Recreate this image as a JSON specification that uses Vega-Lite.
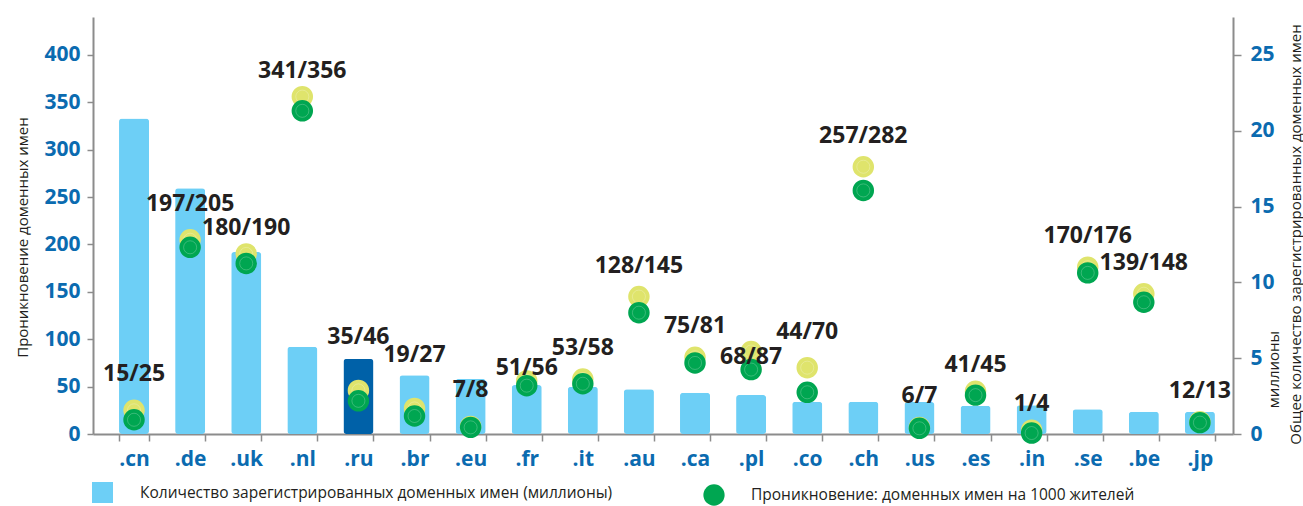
{
  "$schema": "https://vega.github.io/schema/vega-lite/v6.json",
  "width": 1140,
  "height": 417,
  "autosize": {"type": "none"},
  "padding": {"left": 93, "top": 17, "right": 70, "bottom": 72},
  "background": "white",
  "data": {
    "values": [
      {"tld": ".cn", "mln": 20.8, "pen1": 15, "pen2": 25, "label": "15/25"},
      {"tld": ".de", "mln": 16.2, "pen1": 197, "pen2": 205, "label": "197/205"},
      {"tld": ".uk", "mln": 12.0, "pen1": 180, "pen2": 190, "label": "180/190"},
      {"tld": ".nl", "mln": 5.76, "pen1": 341, "pen2": 356, "label": "341/356"},
      {"tld": ".ru", "mln": 4.95, "pen1": 35, "pen2": 46, "label": "35/46"},
      {"tld": ".br", "mln": 3.87, "pen1": 19, "pen2": 27, "label": "19/27"},
      {"tld": ".eu", "mln": 3.63, "pen1": 7, "pen2": 8, "label": "7/8"},
      {"tld": ".fr", "mln": 3.23, "pen1": 51, "pen2": 56, "label": "51/56"},
      {"tld": ".it", "mln": 3.12, "pen1": 53, "pen2": 58, "label": "53/58"},
      {"tld": ".au", "mln": 2.95, "pen1": 128, "pen2": 145, "label": "128/145"},
      {"tld": ".ca", "mln": 2.72, "pen1": 75, "pen2": 81, "label": "75/81"},
      {"tld": ".pl", "mln": 2.57, "pen1": 68, "pen2": 87, "label": "68/87"},
      {"tld": ".co", "mln": 2.13, "pen1": 44, "pen2": 70, "label": "44/70"},
      {"tld": ".ch", "mln": 2.13, "pen1": 257, "pen2": 282, "label": "257/282"},
      {"tld": ".us", "mln": 2.11, "pen1": 6, "pen2": 7, "label": "6/7"},
      {"tld": ".es", "mln": 1.87, "pen1": 41, "pen2": 45, "label": "41/45"},
      {"tld": ".in", "mln": 1.89, "pen1": 1, "pen2": 4, "label": "1/4"},
      {"tld": ".se", "mln": 1.63, "pen1": 170, "pen2": 176, "label": "170/176"},
      {"tld": ".be", "mln": 1.47, "pen1": 139, "pen2": 148, "label": "139/148"},
      {"tld": ".jp", "mln": 1.47, "pen1": 12, "pen2": 13, "label": "12/13"}
    ]
  },
  "encoding": {
    "x": {
      "field": "tld",
      "type": "nominal",
      "sort": null,
      "scale": {"paddingInner": 0.465, "paddingOuter": 0.393, "align": 0.59},
      "axis": {
        "title": null,
        "labelAngle": 0,
        "labelFont": "Open Sans",
        "labelFontWeight": "bold",
        "labelFontSize": 21,
        "labelColor": "#0b6bb0",
        "labelPadding": 7,
        "tickBand": "extent",
        "tickSize": 7,
        "tickColor": "#8c8c8c",
        "tickWidth": 1.5,
        "domainColor": "#8c8c8c",
        "domainWidth": 2
      }
    }
  },
  "layer": [
    {
      "mark": {"type": "bar", "cornerRadius": 3},
      "encoding": {
        "y": {
          "field": "mln",
          "type": "quantitative",
          "scale": {"domain": [0, 27.5], "nice": false},
          "axis": {
            "orient": "right",
            "values": [0, 5, 10, 15, 20, 25],
            "title": "Общее количество зарегистрированных доменных имен",
            "titleAngle": 270,
            "titleX": 62,
            "titleY": 217,
            "titleAlign": "center",
            "titleBaseline": "middle",
            "titleFont": "Open Sans",
            "titleFontSize": 15,
            "titleFontWeight": "normal",
            "titleColor": "#231f20",
            "labelFont": "Open Sans",
            "labelFontWeight": "bold",
            "labelFontSize": 21,
            "labelColor": "#0b6bb0",
            "labelPadding": 9,
            "tickSize": 8,
            "tickColor": "#8c8c8c",
            "tickWidth": 1.5,
            "domainColor": "#8c8c8c",
            "domainWidth": 2,
            "grid": false
          }
        },
        "fill": {
          "datum": "Количество зарегистрированных доменных имен (миллионы)",
          "type": "nominal",
          "scale": {"range": ["#6dcff6"]},
          "condition": {"test": "datum.tld === '.ru'", "value": "#0061a8"},
          "legend": {
            "orient": "none",
            "legendX": -1,
            "legendY": 465,
            "title": null,
            "padding": 0,
            "symbolType": "square",
            "symbolSize": 441,
            "symbolStrokeWidth": 0,
            "labelOffset": 27,
            "labelFont": "Open Sans",
            "labelFontSize": 15.5,
            "labelColor": "#231f20",
            "labelLimit": 1000
          }
        }
      }
    },
    {
      "mark": {"type": "bar", "opacity": 0},
      "encoding": {
        "y": {
          "field": "mln",
          "type": "quantitative",
          "scale": {"domain": [0, 27.5], "nice": false},
          "axis": {
            "orient": "right",
            "domain": false,
            "ticks": false,
            "labels": false,
            "grid": false,
            "title": "миллионы",
            "titleAngle": 270,
            "titleX": 40,
            "titleY": 352,
            "titleAlign": "center",
            "titleBaseline": "middle",
            "titleFont": "Open Sans",
            "titleFontSize": 15,
            "titleFontWeight": "normal",
            "titleColor": "#231f20"
          }
        }
      }
    },
    {
      "encoding": {
        "y": {
          "field": "pen2",
          "type": "quantitative",
          "scale": {"domain": [0, 440], "nice": false},
          "axis": {
            "orient": "left",
            "values": [0, 50, 100, 150, 200, 250, 300, 350, 400],
            "title": "Проникновение доменных имен",
            "titleAngle": 270,
            "titleX": -71,
            "titleY": 220,
            "titleAlign": "center",
            "titleBaseline": "middle",
            "titleFont": "Open Sans",
            "titleFontSize": 15,
            "titleFontWeight": "normal",
            "titleColor": "#231f20",
            "labelFont": "Open Sans",
            "labelFontWeight": "bold",
            "labelFontSize": 21,
            "labelColor": "#0b6bb0",
            "labelPadding": 7,
            "tickSize": 6,
            "tickColor": "#8c8c8c",
            "tickWidth": 1.5,
            "domainColor": "#8c8c8c",
            "domainWidth": 2,
            "grid": false
          }
        }
      },
      "layer": [
        {
          "mark": {"type": "point", "filled": true, "color": "#dfe46c", "size": 460, "opacity": 1, "strokeWidth": 0}
        },
        {
          "mark": {"type": "point", "filled": false, "stroke": "#ffffff", "strokeOpacity": 0.45, "strokeWidth": 0.8, "size": 170}
        },
        {
          "mark": {"type": "point", "filled": true, "size": 460, "opacity": 1, "strokeWidth": 0},
          "encoding": {
            "y": {
              "field": "pen1",
              "type": "quantitative",
              "scale": {"domain": [0, 440], "nice": false},
              "axis": {
                "orient": "left",
                "values": [0, 50, 100, 150, 200, 250, 300, 350, 400],
                "title": "Проникновение доменных имен",
                "titleAngle": 270,
                "titleX": -71,
                "titleY": 220,
                "titleAlign": "center",
                "titleBaseline": "middle",
                "titleFont": "Open Sans",
                "titleFontSize": 15,
                "titleFontWeight": "normal",
                "titleColor": "#231f20",
                "labelFont": "Open Sans",
                "labelFontWeight": "bold",
                "labelFontSize": 21,
                "labelColor": "#0b6bb0",
                "labelPadding": 7,
                "tickSize": 6,
                "tickColor": "#8c8c8c",
                "tickWidth": 1.5,
                "domainColor": "#8c8c8c",
                "domainWidth": 2,
                "grid": false
              }
            },
            "color": {
              "datum": "Проникновение: доменных имен на 1000 жителей",
              "type": "nominal",
              "scale": {"range": ["#00a651"]},
              "legend": {
                "orient": "none",
                "legendX": 610,
                "legendY": 467,
                "title": null,
                "padding": 0,
                "symbolType": "circle",
                "symbolSize": 452,
                "symbolStrokeWidth": 0,
                "labelOffset": 26,
                "labelFont": "Open Sans",
                "labelFontSize": 15.5,
                "labelColor": "#231f20",
                "labelLimit": 1000
              }
            }
          }
        },
        {
          "mark": {"type": "point", "filled": false, "stroke": "#ffffff", "strokeOpacity": 0.4, "strokeWidth": 0.8, "size": 170},
          "encoding": {
            "y": {
              "field": "pen1",
              "type": "quantitative",
              "scale": {"domain": [0, 440], "nice": false},
              "axis": {
                "orient": "left",
                "values": [0, 50, 100, 150, 200, 250, 300, 350, 400],
                "title": "Проникновение доменных имен",
                "titleAngle": 270,
                "titleX": -71,
                "titleY": 220,
                "titleAlign": "center",
                "titleBaseline": "middle",
                "titleFont": "Open Sans",
                "titleFontSize": 15,
                "titleFontWeight": "normal",
                "titleColor": "#231f20",
                "labelFont": "Open Sans",
                "labelFontWeight": "bold",
                "labelFontSize": 21,
                "labelColor": "#0b6bb0",
                "labelPadding": 7,
                "tickSize": 6,
                "tickColor": "#8c8c8c",
                "tickWidth": 1.5,
                "domainColor": "#8c8c8c",
                "domainWidth": 2,
                "grid": false
              }
            }
          }
        },
        {
          "transform": [{"filter": {"field": "tld", "oneOf": [".it", ".au", ".ca", ".ch", ".us", ".se", ".be", ".jp"]}}],
          "mark": {"type": "text", "font": "Open Sans", "fontWeight": "bold", "fontSize": 23, "color": "#231f20", "baseline": "middle", "align": "center", "dy": -31},
          "encoding": {"text": {"field": "label", "type": "nominal"}}
        },
        {
          "transform": [{"filter": {"field": "tld", "oneOf": [".cn", ".de", ".eu", ".co"]}}],
          "mark": {"type": "text", "font": "Open Sans", "fontWeight": "bold", "fontSize": 23, "color": "#231f20", "baseline": "middle", "align": "center", "dy": -36},
          "encoding": {"text": {"field": "label", "type": "nominal"}}
        },
        {
          "transform": [{"filter": {"field": "tld", "oneOf": [".uk", ".nl", ".es", ".in"]}}],
          "mark": {"type": "text", "font": "Open Sans", "fontWeight": "bold", "fontSize": 23, "color": "#231f20", "baseline": "middle", "align": "center", "dy": -26},
          "encoding": {"text": {"field": "label", "type": "nominal"}}
        },
        {
          "transform": [{"filter": {"field": "tld", "oneOf": [".ru", ".br"]}}],
          "mark": {"type": "text", "font": "Open Sans", "fontWeight": "bold", "fontSize": 23, "color": "#231f20", "baseline": "middle", "align": "center", "dy": -53},
          "encoding": {"text": {"field": "label", "type": "nominal"}}
        },
        {
          "transform": [{"filter": {"field": "tld", "oneOf": [".fr"]}}],
          "mark": {"type": "text", "font": "Open Sans", "fontWeight": "bold", "fontSize": 23, "color": "#231f20", "baseline": "middle", "align": "center", "dy": -13},
          "encoding": {"text": {"field": "label", "type": "nominal"}}
        },
        {
          "transform": [{"filter": {"field": "tld", "oneOf": [".pl"]}}],
          "mark": {"type": "text", "font": "Open Sans", "fontWeight": "bold", "fontSize": 23, "color": "#231f20", "baseline": "middle", "align": "center", "dy": 5},
          "encoding": {"text": {"field": "label", "type": "nominal"}}
        }
      ]
    }
  ],
  "resolve": {"scale": {"y": "independent"}},
  "config": {
    "view": {"stroke": null},
    "axis": {"grid": false}
  }
}
